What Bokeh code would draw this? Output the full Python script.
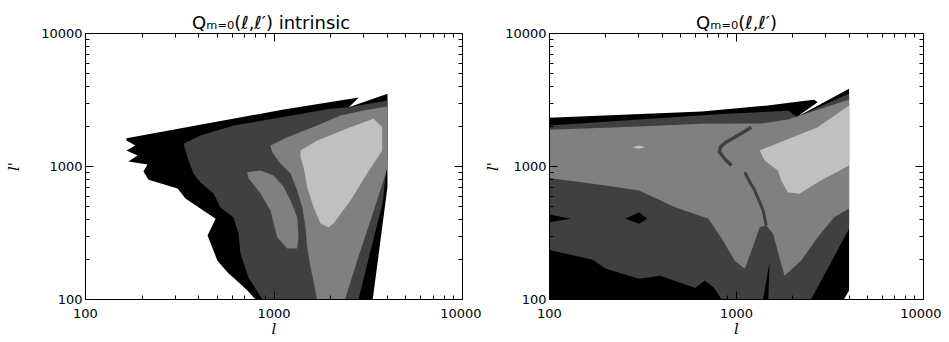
from bokeh.plotting import figure
from bokeh.layouts import row
from bokeh.models import LogAxis, Range1d, FixedTicker, PrintfTickFormatter
from bokeh.embed import file_html
from bokeh.resources import INLINE

# ---------------- colours of the four contour levels ----------------
BLACK, DARK, MID, LIGHT = "#000000", "#404040", "#808080", "#c0c0c0"

# ---------------- ticks ----------------
MAJOR_TICKS = [100, 1000, 10000]
MINOR_TICKS = [200, 300, 400, 500, 600, 700, 800, 900,
               2000, 3000, 4000, 5000, 6000, 7000, 8000, 9000]

TITLE_LEFT = "Q\u2098\u208c\u2080(\u2113,\u2113\u2032)  intrinsic"
TITLE_RIGHT = "Q\u2098\u208c\u2080(\u2113,\u2113\u2032)"
X_LABEL = "l"
Y_LABEL = "l'"

# ---------------- left panel: Q_{m=0}(l,l') intrinsic ----------------
L_BLACK_L = [165, 1127, 2818, 2494, 4000, 4000, 3340, 798, 723, 610, 574, 501, 444, 490,
             339, 308, 216, 203, 213, 169, 189, 165, 184, 165]
L_BLACK_LP = [1633, 2680, 3300, 2792, 3520, 700, 100, 100, 117, 146, 157, 196, 303, 405,
              575, 683, 795, 918, 1036, 1090, 1210, 1319, 1438, 1568]

L_DARK_L = [331, 407, 612, 1994, 2494, 4000, 4000, 3765, 3251, 2807, 869, 733, 664, 648,
            610, 520, 478, 407, 374, 352]
L_DARK_LP = [1482, 1711, 2033, 2716, 2792, 3136, 1110, 527, 233, 100, 100, 146, 222, 313,
             414, 492, 627, 758, 886, 1110]

L_MID_L = [958, 1175, 1695, 2254, 2985, 4000, 4000, 3809, 3251, 2761, 2380, 1695, 1563,
           1500, 1469, 1412, 1327, 1224, 1082, 978]
L_MID_LP = [1438, 1661, 2033, 2418, 2636, 2827, 988, 785, 393, 196, 100, 100, 175,
            247, 350, 494, 660, 886, 1054, 1281]

L_ISLAND_L = [721, 848, 994, 1122, 1224, 1327, 1349, 1327, 1175, 1040, 958, 848, 733]
L_ISLAND_LP = [906, 933, 855, 708, 555, 416, 294, 242, 242, 294, 467, 627, 812]

L_LIGHT_L = [1383, 1695, 2545, 3371, 3750, 3750, 3119, 2545, 2069, 1946, 1766, 1622, 1500,
             1435, 1383]
L_LIGHT_LP = [1319, 1568, 1974, 2284, 1974, 1319, 886, 555, 373, 350, 373, 494, 699,
              988, 1175]

# ---------------- right panel: Q_{m=0}(l,l') ----------------
R_BLACK_L = [100, 652, 1472, 2215, 2606, 2716, 2100, 4000, 4000, 3749, 100]
R_BLACK_LP = [2330, 2592, 2874, 3097, 3175, 3044, 2360, 3839, 117, 100, 100]

R_DARK_L = [100, 832, 1900, 2100, 4000, 4000, 2502, 832, 755, 676, 601, 391, 301, 200,
            170, 100]
R_DARK_LP = [2033, 2481, 2620, 2360, 3538, 340, 100, 100, 123, 139, 122, 151, 143, 170,
             199, 236]

R_MID_L = [100, 301, 652, 1358, 1883, 4000, 4000, 3328, 2716, 2215, 1806, 1685, 1570,
           1443, 1330, 1202, 1107, 979, 832, 708, 470, 301, 200, 100]
R_MID_LP = [1888, 1999, 2094, 2105, 2255, 3190, 483, 416, 294, 196, 151, 214, 312,
            360, 350, 233, 170, 196, 288, 404, 494, 660, 719, 820]

R_LIGHT_L = [1330, 1806, 2716, 4000, 4000, 2827, 2168, 1883, 1734, 1664, 1413]
R_LIGHT_LP = [1319, 1568, 1974, 2874, 1018, 785, 623, 641, 785, 933, 1110]

R_SPOT_L = [277, 301, 325, 301]
R_SPOT_LP = [1397, 1438, 1397, 1358]

R_DIAMOND_L = [255, 301, 333, 301]
R_DIAMOND_LP = [404, 453, 404, 371]

R_WEDGE_L = [100, 130, 100]
R_WEDGE_LP = [436, 404, 381]

R_SPIKE_L = [1387, 1503, 1479]
R_SPIKE_LP = [100, 191, 100]

R_HOOK_L = [1202, 1080, 979, 880, 820, 810, 865, 940]
R_HOOK_LP = [1974, 1800, 1661, 1530, 1400, 1290, 1140, 1018]

R_CHANNEL_L = [1107, 1180, 1253, 1387, 1443]
R_CHANNEL_LP = [906, 760, 660, 467, 360]


def style_axis(ax, labels):
    ax.ticker = FixedTicker(ticks=MAJOR_TICKS, minor_ticks=MINOR_TICKS)
    ax.major_tick_in = 8
    ax.major_tick_out = 0
    ax.minor_tick_in = 4
    ax.minor_tick_out = 0
    ax.axis_line_color = "black"
    ax.major_tick_line_color = "black"
    ax.minor_tick_line_color = "black"
    ax.formatter = PrintfTickFormatter(format="%d")
    if labels:
        ax.major_label_text_font = "DejaVu Sans"
        ax.major_label_text_font_size = "13px"
        ax.major_label_text_color = "black"
        ax.axis_label_text_font = "DejaVu Serif"
        ax.axis_label_text_font_style = "italic"
        ax.axis_label_text_font_size = "15px"
        ax.axis_label_text_color = "black"
    else:
        ax.major_label_text_font_size = "1px"
        ax.major_label_text_color = None
        ax.major_label_standoff = 0


def make_panel(width, border_left, border_right, ylab_standoff, title):
    p = figure(width=width, height=340, x_axis_type="log", y_axis_type="log",
               x_range=Range1d(100, 10000), y_range=Range1d(100, 10000),
               output_backend="svg", toolbar_location=None, title=title,
               min_border_left=border_left, min_border_right=border_right,
               min_border_top=33, min_border_bottom=41)
    p.title.align = "center"
    p.title.text_font = "DejaVu Sans"
    p.title.text_font_style = "normal"
    p.title.text_font_size = "18px"
    p.title.text_color = "black"
    p.title.standoff = 2
    p.xgrid.visible = False
    p.ygrid.visible = False
    p.outline_line_color = "black"
    p.background_fill_color = "white"
    p.border_fill_color = "white"
    style_axis(p.xaxis[0], True)
    style_axis(p.yaxis[0], True)
    p.xaxis[0].axis_label = X_LABEL
    p.yaxis[0].axis_label = Y_LABEL
    p.xaxis[0].major_label_standoff = 9
    p.xaxis[0].axis_label_standoff = -1
    p.yaxis[0].major_label_standoff = 3
    p.yaxis[0].axis_label_standoff = ylab_standoff
    top = LogAxis()
    style_axis(top, False)
    right = LogAxis()
    style_axis(right, False)
    p.add_layout(top, "above")
    p.add_layout(right, "right")
    return p


# ---------------- left figure ----------------
p1 = make_panel(481, 85, 19, 15, TITLE_LEFT)
for xs, ys, c in [(L_BLACK_L, L_BLACK_LP, BLACK), (L_DARK_L, L_DARK_LP, DARK),
                  (L_MID_L, L_MID_LP, MID), (L_ISLAND_L, L_ISLAND_LP, MID),
                  (L_LIGHT_L, L_LIGHT_LP, LIGHT)]:
    p1.patch(xs, ys, fill_color=c, line_color=None)

# ---------------- right figure ----------------
p2 = make_panel(460, 66, 18, 0, TITLE_RIGHT)
for xs, ys, c in [(R_BLACK_L, R_BLACK_LP, BLACK), (R_DARK_L, R_DARK_LP, DARK),
                  (R_MID_L, R_MID_LP, MID), (R_LIGHT_L, R_LIGHT_LP, LIGHT),
                  (R_SPOT_L, R_SPOT_LP, LIGHT), (R_DIAMOND_L, R_DIAMOND_LP, BLACK),
                  (R_WEDGE_L, R_WEDGE_LP, BLACK), (R_SPIKE_L, R_SPIKE_LP, BLACK)]:
    p2.patch(xs, ys, fill_color=c, line_color=None)
p2.line(R_HOOK_L, R_HOOK_LP, line_color=DARK, line_width=3.5)
p2.line(R_CHANNEL_L, R_CHANNEL_LP, line_color=DARK, line_width=3)

layout = row(p1, p2)
open("out.html", "w").write(file_html(layout, INLINE, "Q_m=0(l,l')"))
